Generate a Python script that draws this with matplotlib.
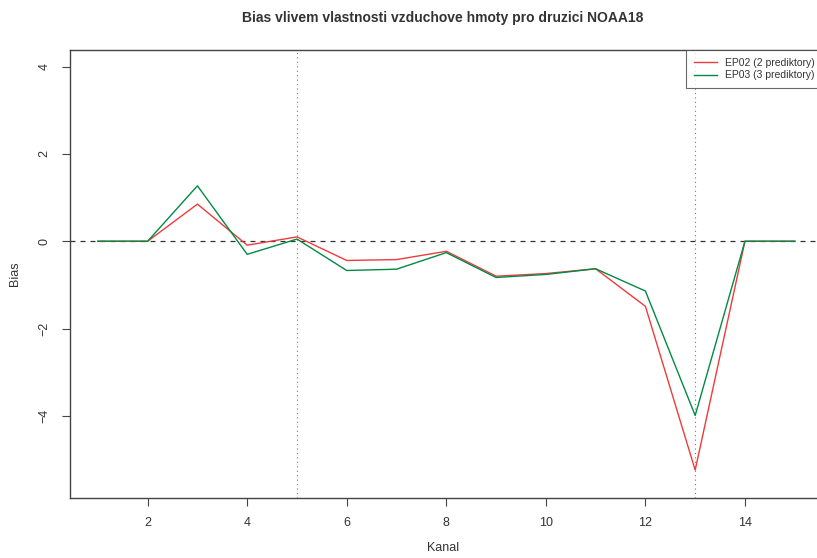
import numpy as np
import matplotlib.pyplot as plt

plt.rcParams['font.family'] = ['Liberation Sans', 'DejaVu Sans']

kanal = np.arange(1, 16)
ep02 = [0, 0, 0.85, -0.09, 0.10, -0.44, -0.42, -0.23, -0.80, -0.74, -0.63, -1.49, -5.24, 0, 0]
ep03 = [0, 0, 1.27, -0.30, 0.05, -0.67, -0.64, -0.26, -0.83, -0.76, -0.63, -1.14, -3.99, 0, 0]
labels = ['EP02 (2 prediktory)', 'EP03 (3 prediktory)']
colors = ['#EE3B3B', '#008B45']

W, H = 817, 558
fig = plt.figure(figsize=(W / 100, H / 100), dpi=100)
# plot region in pixels: left 70, top 50, right 822 (runs past the edge), bottom 498
ax = fig.add_axes([70 / W, 1 - 498 / H, (822.6 - 70) / W, (498 - 50) / H])
ax.set_xlim(0.44, 15.56)
ax.set_ylim(-5.88, 4.38)

ax.axhline(0, color='#333333', lw=0.9, ls=(0, (4, 4)))
for xv in (5, 13):
    ax.axvline(xv, color='#777777', lw=0.8, ls=(0, (1, 3)))

l1, = ax.plot(kanal, ep02, color=colors[0], lw=1.0)
l2, = ax.plot(kanal, ep03, color=colors[1], lw=1.0)

for s in ax.spines.values():
    s.set_color('#444444')
    s.set_linewidth(1.0)

ax.set_xticks(range(2, 15, 2))
ax.set_yticks(range(-4, 5, 2))
ax.set_yticklabels([str(v).replace('-', '\u2212') for v in range(-4, 5, 2)],
                   rotation=90, va='center')
ax.tick_params(axis='both', length=6, width=0.8, color='#444444',
               labelsize=9, labelcolor='#333333', pad=8)

fig.text(443 / W, 1 - 18 / H, 'Bias vlivem vlastnosti vzduchove hmoty pro druzici NOAA18',
         ha='center', va='center', fontsize=10, fontweight='bold', color='#333333')
fig.text(443 / W, 1 - 548 / H, 'Kanal', ha='center', va='center', fontsize=9, color='#333333')
fig.text(15 / W, 1 - 274 / H, 'Bias', ha='center', va='center', rotation=90,
         fontsize=9, color='#333333')

leg = ax.legend([l1, l2], labels, loc='upper right', fontsize=7.5, frameon=True,
                fancybox=False, borderaxespad=0, handlelength=2.2, handletextpad=0.8,
                borderpad=0.75, labelspacing=0.25, labelcolor='#333333')
leg.get_frame().set_edgecolor('#444444')
leg.get_frame().set_linewidth(0.8)

fig.savefig('out.png', dpi=100)
